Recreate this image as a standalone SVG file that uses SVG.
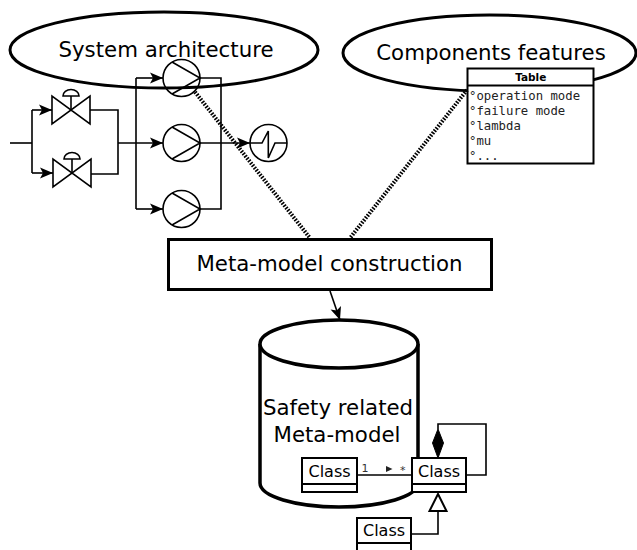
<svg xmlns="http://www.w3.org/2000/svg" width="637" height="550" viewBox="0 0 637 550">
<style>
.big{font-family:"DejaVu Sans","Liberation Sans",sans-serif;font-size:21.3px;fill:#000;text-anchor:middle}
.cls{font-family:"DejaVu Sans","Liberation Sans",sans-serif;font-size:16px;fill:#000;text-anchor:middle}
.mono{font-family:"DejaVu Sans Mono","Liberation Mono",monospace;font-size:12.3px;fill:#222}
.hdr{font-family:"DejaVu Sans","Liberation Sans",sans-serif;font-size:10.5px;font-weight:bold;fill:#000;text-anchor:middle}
.lbl{font-family:"DejaVu Sans","Liberation Sans",sans-serif;font-size:11px;fill:#333}
.thin{fill:none;stroke:#000;stroke-width:1.6}
.pipe{fill:none;stroke:#000;stroke-width:1.6}
.arrowed{marker-end:url(#arr)}
.thick{fill:none;stroke:#000;stroke-width:3}
.box{fill:#fff;stroke:#000;stroke-width:2}
.dot{fill:none;stroke:#000;stroke-width:4;stroke-dasharray:1.6 1.4}
</style>
<defs>
<marker id="arr" viewBox="-14 -7 15 14" markerWidth="15" markerHeight="14" refX="0" refY="0" markerUnits="userSpaceOnUse" orient="auto">
<path d="M0,0 L-13,-5.5 L-10,0 L-13,5.5 Z" fill="#000"/>
</marker>
<g id="pumpSym">
<circle cx="0" cy="0" r="18.5" class="thin"/>
<polyline points="-9.5,-16 18.5,0 -9.5,16" class="thin"/>
</g>
<g id="valveSym">
<path d="M0,-14 L0,14 L38,-14 L38,14 Z" class="thin" stroke-linejoin="miter"/>
<line x1="19" y1="0" x2="19" y2="-14" class="thin"/>
<path d="M11,-14 A8,6.5 0 0 1 27,-14 Z" class="thin"/>
</g>
</defs>

<g id="system-architecture">
<ellipse cx="164" cy="50" rx="154" ry="38" class="thick"/>
<text x="166" y="57" class="big">System architecture</text>
</g>

<g id="pid-schematic">
<use href="#valveSym" x="52" y="110"/>
<use href="#valveSym" x="53" y="173"/>
<use href="#pumpSym" x="181.5" y="78"/>
<use href="#pumpSym" x="181.5" y="143"/>
<use href="#pumpSym" x="181.5" y="209"/>
<circle cx="268.5" cy="143" r="18.5" class="thin"/>
<polyline points="250,143 262,143 268.3,131 268.3,158 275,143 287,143" class="thin"/>
</g>

<g id="pid-pipes">
<line x1="10" y1="143" x2="32" y2="143" class="pipe"/>
<line x1="32" y1="110" x2="32" y2="173" class="pipe"/>
<polyline points="32,110 52,110" class="pipe arrowed"/>
<polyline points="32,173 53,173" class="pipe arrowed"/>
<polyline points="90,110 118,110 118,174 91,174" class="pipe"/>
<polyline points="118,143 163,143" class="pipe arrowed"/>
<line x1="136" y1="78" x2="136" y2="209" class="pipe"/>
<polyline points="136,78 163,78" class="pipe arrowed"/>
<polyline points="136,209 163,209" class="pipe arrowed"/>
<polyline points="200,78 221,78 221,209 200,209" class="pipe"/>
<polyline points="200,143 250,143" class="pipe arrowed"/>
</g>

<g id="components-features">
<ellipse cx="489.5" cy="53" rx="146.5" ry="38" class="thick"/>
<text x="491" y="60" class="big">Components features</text>
</g>

<g id="table">
<rect x="467.5" y="68.5" width="126" height="95" class="box"/>
<line x1="467.5" y1="85.5" x2="593.5" y2="85.5" stroke="#000" stroke-width="2"/>
<text x="530.7" y="81" class="hdr">Table</text>
<text x="469" y="99.5" class="mono">°operation mode</text>
<text x="469" y="115" class="mono">°failure mode</text>
<text x="469" y="130" class="mono">°lambda</text>
<text x="469" y="145" class="mono">°mu</text>
<text x="469" y="160" class="mono">°...</text>
</g>

<g id="connectors">
<line x1="195" y1="92" x2="310" y2="238" class="dot"/>
<line x1="467" y1="90" x2="350" y2="238" class="dot"/>
<line x1="330" y1="291" x2="340" y2="320" class="pipe arrowed"/>
</g>

<g id="meta-model-construction">
<rect x="168.5" y="239.5" width="323" height="50" fill="#fff" stroke="#000" stroke-width="3"/>
<text x="329.5" y="271" class="big">Meta-model construction</text>
</g>

<g id="safety-meta-model">
<path d="M260,344 L260,483 A79,24 0 0 0 418,483 L418,344" fill="#fff" stroke="#000" stroke-width="3.5"/>
<ellipse cx="339" cy="344" rx="79" ry="24" fill="#fff" stroke="#000" stroke-width="3.5"/>
<text x="338" y="415" class="big">Safety related</text>
<text x="337" y="442" class="big">Meta-model</text>
</g>

<g id="uml-links">
<line x1="357" y1="475" x2="412" y2="475" class="thin"/>
<text x="361.5" y="472" class="lbl">1</text>
<polygon points="386,466 392.5,469 386,472" fill="#222"/>
<text x="400" y="474" class="lbl">*</text>
<polyline points="438,429 438,424 486,424 486,475 466,475" class="thin"/>
<polygon points="438,429 443.5,443 438,458 432.5,443" fill="#000" stroke="#000" stroke-width="1"/>
<polyline points="438,511 438,534 411,534" class="thin"/>
<polygon points="438,494 446.5,511 429.5,511" fill="#fff" stroke="#000" stroke-width="2"/>
</g>

<g id="class-a">
<rect x="302" y="458" width="55" height="34" class="box"/>
<line x1="302" y1="484" x2="357" y2="484" stroke="#000" stroke-width="2"/>
<text x="329.5" y="476.5" class="cls">Class</text>
</g>

<g id="class-b">
<rect x="412" y="458" width="54" height="34" class="box"/>
<line x1="412" y1="484" x2="466" y2="484" stroke="#000" stroke-width="2"/>
<text x="439" y="476.5" class="cls">Class</text>
</g>

<g id="class-c">
<rect x="357" y="518" width="54" height="40" class="box"/>
<line x1="357" y1="543" x2="411" y2="543" stroke="#000" stroke-width="2"/>
<text x="384" y="535.5" class="cls">Class</text>
</g>
</svg>
